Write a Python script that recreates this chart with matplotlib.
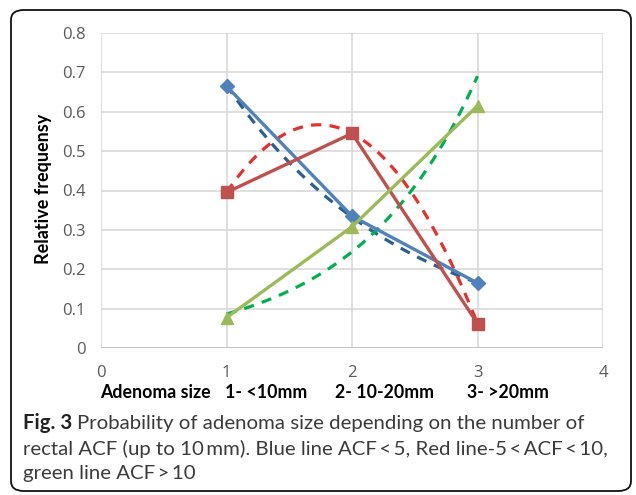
import numpy as np
import matplotlib
matplotlib.use("Agg")
import matplotlib.pyplot as plt
from matplotlib.patches import FancyBboxPatch

# data
sizes = [1, 2, 3]
acf_low = [0.665, 0.335, 0.165]     # blue, ACF < 5
acf_mid = [0.395, 0.545, 0.062]     # red, 5 < ACF < 10
acf_high = [0.077, 0.308, 0.615]    # green, ACF > 10
size_labels = ["1- <10mm", "2- 10-20mm", "3- >20mm"]

W, H = 636, 495
fig = plt.figure(figsize=(W / 100, H / 100), dpi=100)

def fx(px):
    return px / W

def fy(py):
    return 1 - py / H

ax = fig.add_axes([fx(101), fy(348), fx(603) - fx(101), fy(33) - fy(348)])

xs = np.linspace(1, 3, 100)

# trendlines: exponential for blue/green, 2nd order polynomial for red
def exp_trend(y):
    b, a = np.polyfit(sizes, np.log(y), 1)
    return np.exp(a + b * xs)

red_trend = np.polyval(np.polyfit(sizes, acf_mid, 2), xs)

dash = (0, (3.2, 2.6))
ax.plot(xs, exp_trend(acf_low), color="#2B5E91", lw=2.3, ls=dash, zorder=3)
ax.plot(xs, red_trend, color="#E8302A", lw=2.3, ls=dash, zorder=3)
ax.plot(xs, exp_trend(acf_high), color="#00B050", lw=2.3, ls=dash, zorder=3)

ax.plot(sizes, acf_low, color="#4F81BD", lw=2.4, marker="D", ms=7.5, zorder=4)
ax.plot(sizes, acf_mid, color="#C0504D", lw=2.4, marker="s", ms=8.5, zorder=4)
ax.plot(sizes, acf_high, color="#9BBB59", lw=2.4, marker="^", ms=9, zorder=4)

ax.set_xlim(0, 4)
ax.set_ylim(0, 0.8)
ax.set_xticks(range(5))
ax.set_yticks(np.arange(0, 0.81, 0.1))
ax.set_yticklabels(["0"] + ["%.1f" % v for v in np.arange(0.1, 0.81, 0.1)])
ax.grid(True, color="#D9D9D9", lw=1.2)
ax.set_axisbelow(True)
for s in ax.spines.values():
    s.set_visible(False)
ax.axhline(0, color="#BFBFBF", lw=1.2, zorder=1)
ax.tick_params(length=0, labelsize=12, labelcolor="#595959")
ax.tick_params(axis="y", pad=11)
ax.tick_params(axis="x", pad=12)
for lab in ax.get_xticklabels() + ax.get_yticklabels():
    lab.set_fontfamily("Open Sans")

fig.text(fx(44), fy(189), "Relative frequensy", rotation=90, ha="center",
         va="center", fontsize=13, fontweight="bold", family="Lato")

# bottom label row, spaced as in the original text line
fig.text(fx(100), fy(392), "Adenoma size", ha="left", va="center",
         fontsize=12.8, fontweight="bold", family="Lato")
for left, lab in zip([225, 335, 467], size_labels):
    fig.text(fx(left), fy(392), lab, ha="left", va="center",
             fontsize=12.8, fontweight="bold", family="Lato")

# caption
fam = ["Lato", "DejaVu Sans"]
cap = dict(fontsize=14.7, family=fam, color="#3A3A3A", va="center", ha="left")
t = fig.text(fx(23), fy(423), "Fig. 3", fontweight="bold", **dict(cap, color="#222222"))
fig.canvas.draw()
bb = t.get_window_extent()
fig.text((bb.x1 + 5) / W, fy(423),
         "Probability of adenoma size depending on the number of", **cap)
fig.text(fx(23), fy(449),
         "rectal ACF (up to 10\u2009mm). Blue line ACF\u2009<\u20095, "
         "Red line-5\u2009<\u2009ACF\u2009<\u200910,", **cap)
fig.text(fx(23), fy(474), "green line ACF\u2009>\u200910", **cap)

border = FancyBboxPatch((fx(11), fy(491)), fx(631) - fx(11), fy(10) - fy(491),
                        boxstyle="round,pad=0,rounding_size=0.02",
                        transform=fig.transFigure, fill=False,
                        edgecolor="#111111", lw=1.3)
fig.patches.append(border)

fig.savefig("out.png", dpi=100)
